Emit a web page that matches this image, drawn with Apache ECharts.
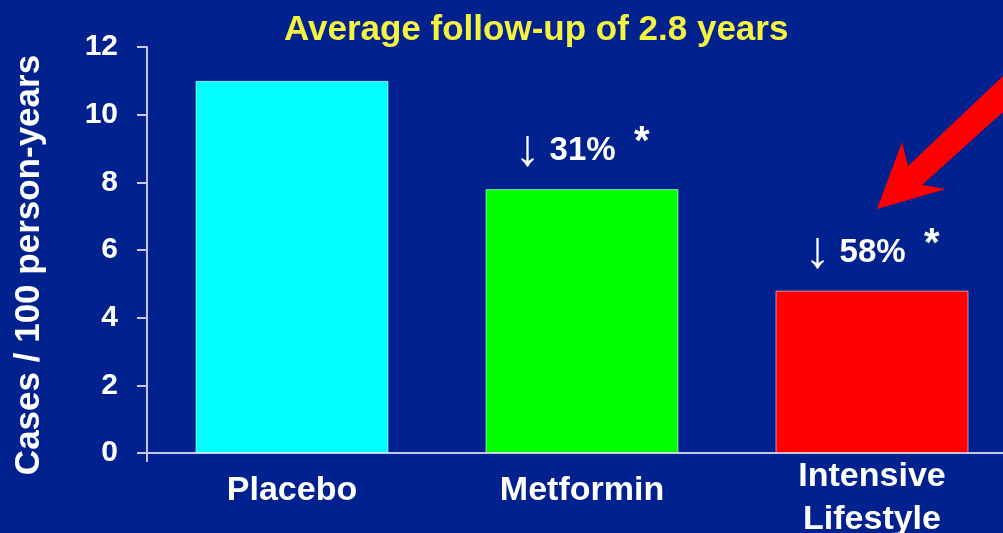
<!DOCTYPE html>
<html>
<head>
<meta charset="utf-8">
<script src="https://cdn.jsdelivr.net/npm/echarts@6/dist/echarts.min.js"></script>
<style>
html,body{margin:0;padding:0;background:#01228e;}
#c{width:1003px;height:533px;}
</style>
</head>
<body>
<div id="c"></div>
<script>
const categories = ['Placebo', 'Metformin', 'Intensive\nLifestyle'];
const values = [11.0, 7.8, 4.8];
const reductions = [null, '31%', '58%'];
const barColors = ['#00ffff', '#00ff00', '#ff0000'];
const yTicks = [0, 2, 4, 6, 8, 10, 12];

const FONT = "'Liberation Sans', Arial, sans-serif";
const axisCol = '#c4c6ee';

const chart = echarts.init(document.getElementById('c'), null, {renderer: 'canvas'});
chart.setOption({
  backgroundColor: '#01228e',
  animation: false,
  title: {
    text: 'Average follow-up of 2.8 years',
    left: 279, top: 8,
    textStyle: {color: '#f4f440', fontSize: 35, fontWeight: 'bold', fontFamily: FONT}
  },
  grid: {left: 147, top: 47, right: -14, bottom: 80, containLabel: false, outerBoundsMode: 'none'},
  xAxis: {
    type: 'category',
    data: categories,
    axisLine: {show: true, lineStyle: {color: axisCol, width: 2}},
    axisTick: {show: true, length: 9, interval: function (i) { return i === 0; }, lineStyle: {color: axisCol, width: 2}},
    axisLabel: {
      margin: 2,
      interval: 0,
      color: '#ffffff',
      fontSize: 34, fontWeight: 'bold', fontFamily: FONT,
      formatter: function (v) {
        return v.indexOf('\n') >= 0 ? v.split('\n').map(s => '{m|' + s + '}').join('\n') : '{s|' + v + '}';
      },
      rich: {
        m: {fontSize: 34, fontWeight: 'bold', fontFamily: FONT, color: '#fff', lineHeight: 43},
        s: {fontSize: 34, fontWeight: 'bold', fontFamily: FONT, color: '#fff', lineHeight: 72}
      }
    }
  },
  yAxis: {
    type: 'value',
    min: yTicks[0], max: yTicks[yTicks.length - 1], interval: 2,
    name: 'Cases / 100 person-years',
    nameLocation: 'middle',
    nameGap: 100,
    nameTextStyle: {color: '#fff', fontSize: 35, fontWeight: 'bold', fontFamily: FONT, padding: [0, 30, 0, 0]},
    axisLine: {show: true, lineStyle: {color: axisCol, width: 2}},
    axisTick: {show: true, length: 10, lineStyle: {color: axisCol, width: 2}},
    splitLine: {show: false},
    axisLabel: {color: '#fff', fontSize: 30, fontWeight: 'bold', fontFamily: FONT, margin: 29}
  },
  series: [{
    type: 'bar',
    barWidth: 193,
    data: values.map((v, i) => ({
      value: v,
      itemStyle: {color: barColors[i], borderColor: 'rgba(255,255,255,0.55)', borderWidth: 1}
    })),
    label: {
      show: true,
      position: 'top',
      distance: 10,
      formatter: function (p) {
        const r = reductions[p.dataIndex];
        return r ? '{a|\u2193}{p| ' + r + '  }{s|*}' : '';
      },
      rich: {
        a: {fontSize: 52, fontWeight: 'normal', fontFamily: FONT, color: '#fff'},
        p: {fontSize: 33, fontWeight: 'bold', fontFamily: FONT, color: '#fff'},
        s: {fontSize: 40, fontWeight: 'bold', fontFamily: FONT, color: '#fff', padding: [0, 0, 16, 0]}
      }
    }
  }],
  graphic: [{
    type: 'polygon',
    silent: true,
    shape: {points: [[1003, 76], [1003, 112], [922, 185], [946, 189], [877, 209], [902, 142], [908, 166]]},
    style: {fill: '#ff0000'}
  }]
});
</script>
</body>
</html>
